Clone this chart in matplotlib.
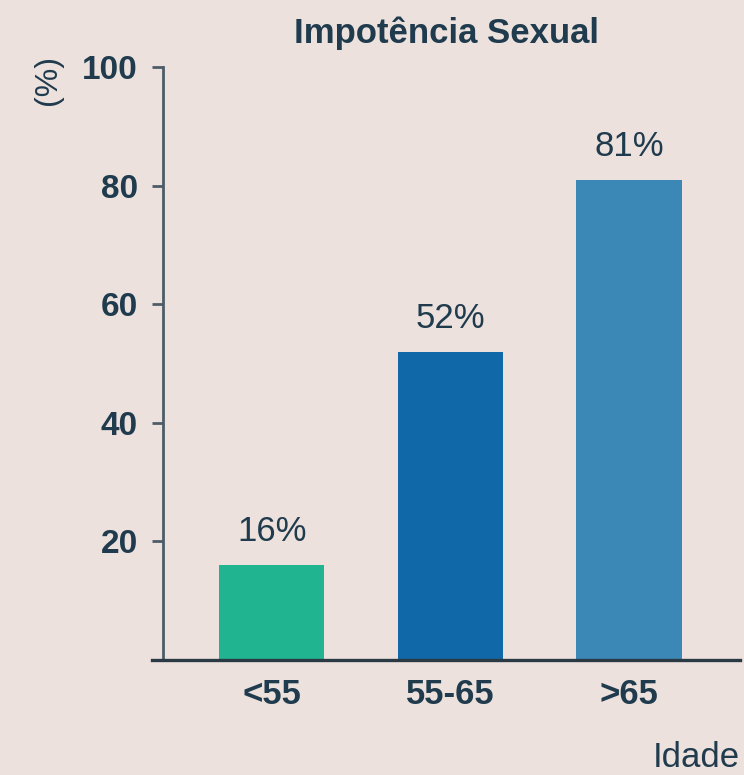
import matplotlib.pyplot as plt

plt.rcParams['font.family'] = ['Liberation Sans', 'DejaVu Sans']

faixas = ['<55', '55-65', '>65']
valores = [16, 52, 81]
cores = ['#20b590', '#1068a8', '#3b88b6']
yticks = [20, 40, 60, 80, 100]

fundo = '#ece1dc'
texto = '#1f3b4d'
eixo = '#4d5c68'

fig = plt.figure(figsize=(7.44, 7.75), dpi=100, facecolor=fundo)
ax = fig.add_axes([0.2043, 0.1484, 0.7903, 0.7652], facecolor=fundo)

x = range(len(faixas))
ax.bar(x, valores, width=0.59, color=cores, zorder=2)

# rótulos de percentagem acima de cada barra
for xi, v in zip(x, valores):
    ax.annotate(f'{v}%', (xi, v), xytext=(0, 12), textcoords='offset points',
                ha='center', va='bottom', fontsize=25, color=texto)

ax.set_xlim(-0.67, 2.62)
ax.set_ylim(0, 100)

for s in ['top', 'right']:
    ax.spines[s].set_visible(False)
ax.spines['left'].set_position(('axes', 0.0187))
ax.spines['left'].set_color(eixo)
ax.spines['left'].set_linewidth(2.0)
ax.spines['bottom'].set_color('#2a3a44')
ax.spines['bottom'].set_linewidth(2.4)

ax.set_yticks(yticks)
ax.tick_params(axis='y', length=8, width=2.0, color=eixo, pad=10,
               labelsize=24, labelcolor=texto)
for lab in ax.get_yticklabels():
    lab.set_fontweight('bold')

ax.set_xticks(list(x))
ax.set_xticklabels(faixas, fontweight='bold')
ax.tick_params(axis='x', length=0, pad=13, labelsize=25, labelcolor=texto)

fig.text(0.600, 0.957, 'Impotência Sexual', ha='center', va='center',
         fontsize=25, fontweight='bold', color=texto)
fig.text(0.065, 0.897, '(%)', rotation=90, ha='center', va='center',
         fontsize=23, color=texto)
fig.text(0.995, 0.023, 'Idade', ha='right', va='center',
         fontsize=25, color=texto)

fig.savefig('out.png', dpi=100, facecolor=fundo)
